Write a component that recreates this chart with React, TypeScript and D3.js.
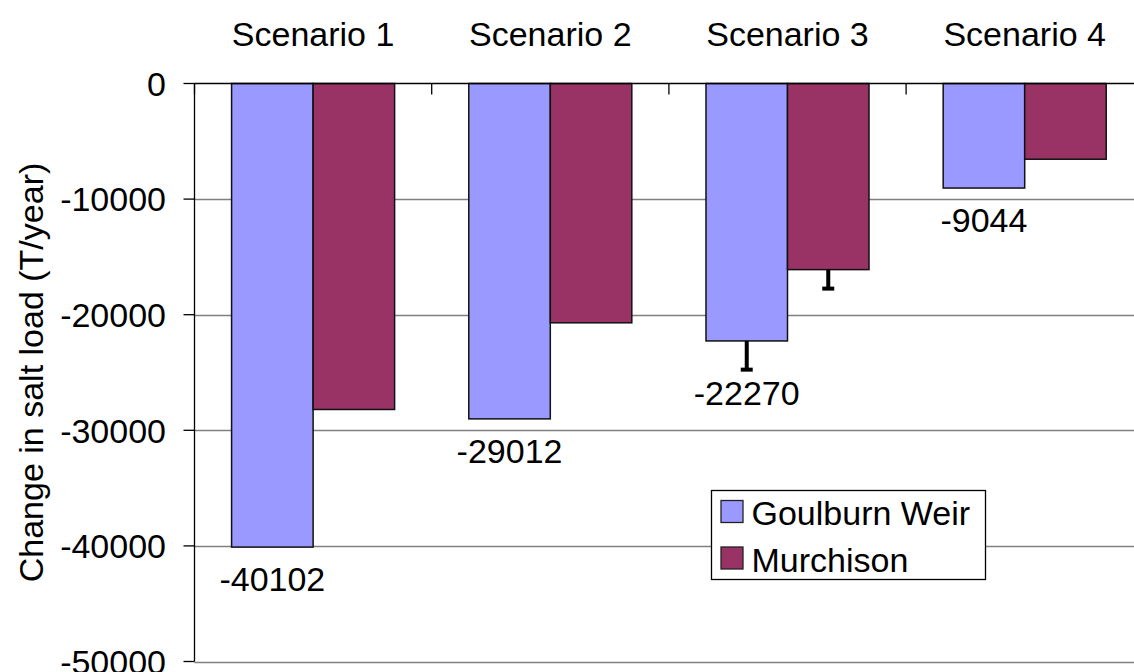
import React from "react";
import * as d3 from "d3";

const scenarios = ["Scenario 1", "Scenario 2", "Scenario 3", "Scenario 4"];
const seriesNames = ["Goulburn Weir", "Murchison"];
const goulburn = [-40102, -29012, -22270, -9044];
const murchison = [-28200, -20700, -16100, -6550];
// minus-side error bars (only scenario 3 has them)
const goulburnErr = [0, 0, 2570, 0];
const murchisonErr = [0, 0, 1730, 0];
const yTicks = [0, -10000, -20000, -30000, -40000, -50000];
const colors = ["#9999FF", "#993366"];

const W = 1134;
const H = 672;
const FONT = "'Liberation Sans', Arial, sans-serif";

export default function App() {
  const left = 194.5;
  const step = 237.2;
  const x0 = d3
    .scaleBand<string>()
    .domain(scenarios)
    .range([left, left + step * scenarios.length])
    .paddingInner(0)
    .paddingOuter(0);
  const x1 = d3
    .scaleBand<string>()
    .domain(seriesNames)
    .range([0, x0.bandwidth()])
    .paddingInner(0)
    .paddingOuter(0.455);
  const y = d3.scaleLinear().domain([-50000, 0]).range([661.5, 83.5]);

  const series = [
    { name: seriesNames[0], values: goulburn, err: goulburnErr, color: colors[0] },
    { name: seriesNames[1], values: murchison, err: murchisonErr, color: colors[1] },
  ];

  const legendX = 711.5;
  const legendY = 490.5;

  return (
    <svg
      width={W}
      height={H}
      style={{ position: "absolute", left: 0, top: 0, background: "#fff" }}
      fontFamily={FONT}
    >
      <rect x={0} y={0} width={W} height={H} fill="#fff" />
      {/* gridlines */}
      {yTicks
        .filter((t) => t !== 0)
        .map((t) => (
          <line
            key={"g" + t}
            x1={left}
            x2={W}
            y1={Math.round(y(t)) + 0.5}
            y2={Math.round(y(t)) + 0.5}
            stroke="#808080"
            strokeWidth={1.3}
          />
        ))}
      {/* bars */}
      {series.map((s) =>
        scenarios.map((c, i) => {
          const bx = (x0(c) as number) + (x1(s.name) as number);
          return (
            <rect
              key={s.name + c}
              x={bx}
              y={y(0)}
              width={x1.bandwidth()}
              height={y(s.values[i]) - y(0)}
              fill={s.color}
              stroke="#111"
              strokeWidth={1.5}
            />
          );
        })
      )}
      {/* error bars */}
      {series.map((s) =>
        scenarios.map((c, i) => {
          if (!s.err[i]) return null;
          const cx = (x0(c) as number) + (x1(s.name) as number) + x1.bandwidth() / 2;
          const y1 = y(s.values[i]);
          const y2 = y(s.values[i] - s.err[i]);
          return (
            <g key={"e" + s.name + c} stroke="#000" strokeWidth={4}>
              <line x1={cx} x2={cx} y1={y1} y2={y2} />
              <line x1={cx - 6} x2={cx + 6} y1={y2 - 1} y2={y2 - 1} />
            </g>
          );
        })
      )}
      {/* x axis at zero with ticks */}
      <line x1={left} x2={W} y1={y(0)} y2={y(0)} stroke="#000" strokeWidth={1.3} />
      {d3.range(scenarios.length + 1).map((i) => (
        <line
          key={"xt" + i}
          x1={left + i * step}
          x2={left + i * step}
          y1={y(0)}
          y2={y(0) + 11}
          stroke="#000"
          strokeWidth={1.3}
        />
      ))}
      {/* y axis */}
      <line x1={left} x2={left} y1={y(0)} y2={y(-50000)} stroke="#000" strokeWidth={1.3} />
      {yTicks.map((t) => (
        <g key={"yt" + t}>
          <line x1={left - 11} x2={left} y1={y(t)} y2={y(t)} stroke="#000" strokeWidth={1.3} />
          <text x={166} y={y(t)} dy="0.36em" textAnchor="end" fontSize={34} fill="#000">
            {t}
          </text>
        </g>
      ))}
      {/* category labels on top */}
      {scenarios.map((c) => (
        <text
          key={"c" + c}
          x={(x0(c) as number) + x0.bandwidth() / 2}
          y={46}
          textAnchor="middle"
          fontSize={34}
          fill="#000"
        >
          {c}
        </text>
      ))}
      {/* data labels for Goulburn Weir */}
      {scenarios.map((c, i) => {
        const cx = (x0(c) as number) + (x1(seriesNames[0]) as number) + x1.bandwidth() / 2;
        const err = goulburnErr[i];
        const ly = err ? y(goulburn[i] - err) + 34 : y(goulburn[i]) + 44;
        return (
          <text key={"l" + c} x={cx} y={ly} textAnchor="middle" fontSize={34} fill="#000">
            {goulburn[i]}
          </text>
        );
      })}
      {/* y axis title */}
      <text
        transform={`translate(43, ${(y(0) + y(-50000)) / 2}) rotate(-90)`}
        textAnchor="middle"
        fontSize={34}
        fill="#000"
      >
        Change in salt load (T/year)
      </text>
      {/* legend */}
      <rect x={legendX} y={legendY} width={274} height={89} fill="#fff" stroke="#000" strokeWidth={1.3} />
      {series.map((s, i) => (
        <g key={"lg" + s.name} transform={`translate(${legendX}, ${legendY + i * 46.5})`}>
          <rect x={9.5} y={10} width={22} height={22} fill={s.color} stroke="#222" strokeWidth={1.3} />
          <text x={40} y={34.5} fontSize={34} fill="#000">
            {s.name}
          </text>
        </g>
      ))}
    </svg>
  );
}
